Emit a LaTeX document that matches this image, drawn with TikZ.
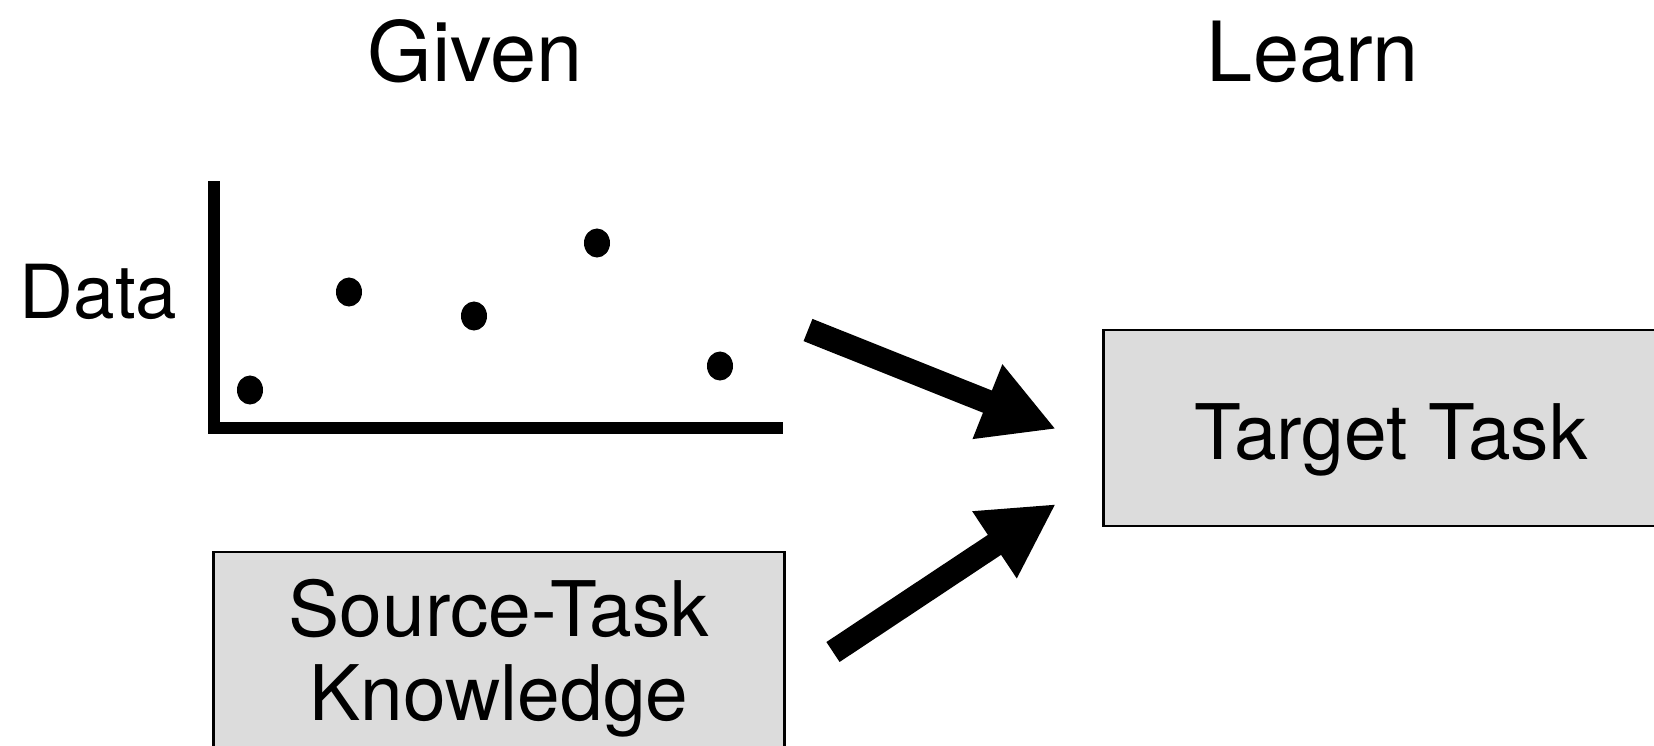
\documentclass[tikz,border=0pt]{standalone}
\usepackage{fontspec}
\setmainfont{TeX Gyre Heros}
\usetikzlibrary{arrows.meta}
\definecolor{boxgray}{HTML}{DCDCDC}
\begin{document}
\begin{tikzpicture}[x=0.01cm,y=-0.01cm,
  box/.style={draw=black, line width=0.8pt, fill=boxgray, inner sep=0pt},
  big/.style={font=\fontsize{23.6}{28}\selectfont, inner sep=0pt},
  lab/.style={font=\fontsize{21.8}{25}\selectfont, inner sep=0pt},
  datalab/.style={font=\fontsize{21.2}{25}\selectfont, inner sep=0pt},
  axisline/.style={line width=3.4pt},
  fat/.style={line width=6.8pt, -{Triangle[length=21pt,width=21.3pt]}}]
\useasboundingbox (0,0) rectangle (1654,745);
\clip (0,0) rectangle (1654,745);
% headings
\node[big, anchor=base] (given) at (475,81) {Given};
\node[big, anchor=base] (learn) at (1313,81) {Learn};
% data plot
\node[datalab, anchor=base] (data) at (98.6,318.5) {Data};
\draw[axisline] (214,181) -- (214,434);
\draw[axisline] (208,428) -- (783,428);
\foreach \p in {(250,390),(349,292),(474,316),(597,243),(720,366)}
  \fill \p ellipse [x radius=0.13cm, y radius=0.145cm];
% boxes
\node[box, minimum width=5.76cm, minimum height=1.96cm] (target) at (1392,428) {};
\node[lab, anchor=base] (targetlab) at (1391,459) {Target Task};
\node[box, minimum width=5.70cm, minimum height=2.60cm] (source) at (499,682) {};
\node[lab, anchor=base] (sourcelab1) at (499,636) {Source-Task};
\node[lab, anchor=base] (sourcelab2) at (499,720) {Knowledge};
% arrows
\coordinate (a1s) at (808,330);
\coordinate (a1e) at (1056,429);
\coordinate (a2s) at (833,652);
\coordinate (a2e) at (1056,504);
\draw[fat] (a1s) -- (a1e);
\draw[fat] (a2s) -- (a2e);
\end{tikzpicture}
\end{document}
